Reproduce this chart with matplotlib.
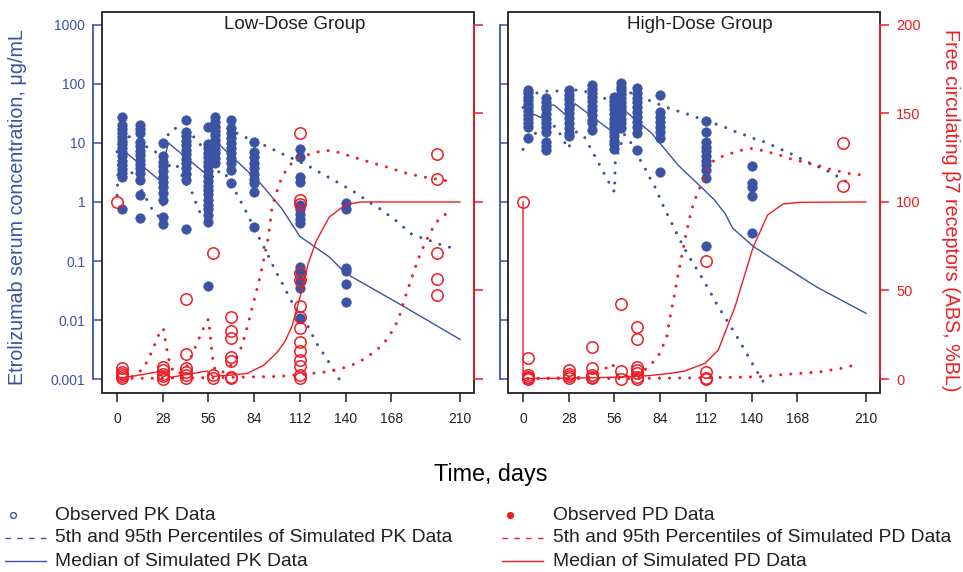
import matplotlib
matplotlib.use("Agg")
import matplotlib.pyplot as plt
from matplotlib.lines import Line2D
from matplotlib.patches import Rectangle
from matplotlib.ticker import FixedLocator, FixedFormatter, NullLocator

plt.rcParams['font.family'] = ['Liberation Sans', 'DejaVu Sans']

BLUE = '#3a53a4'
RED = '#ee1c25'
DARK = '#231f20'

# ---------------- axis ticks ----------------
X_TICKS = [0, 28, 56, 84, 112, 140, 168, 210]
PK_TICKS = [0.001, 0.01, 0.1, 1, 10, 100, 1000]
PK_TICK_LABELS = ['0.001', '0.01', '0.1', '1', '10', '100', '1000']
PD_TICKS = [0, 50, 100, 150, 200]

# ---------------- Low-dose group ----------------
LOW_PK_OBS_DAYS = [3, 14, 28, 42, 56, 60, 70, 84, 112, 140]
LOW_PK_OBS = [
    [28, 20, 17, 14.5, 12.5, 11, 9.5, 8.2, 7, 6, 5, 4.3, 3.6, 3.1, 2.7, 0.75],
    [20, 17, 15, 10.5, 8.8, 7.4, 6.2, 5.2, 4.4, 3.7, 3.1, 2.4, 1.3, 0.53],
    [10, 6, 4.8, 4, 3.3, 2.7, 2.2, 1.8, 1.4, 1.1, 0.56, 0.42],
    [25, 15.6, 13, 11, 9.2, 7.7, 6.4, 5.4, 4.5, 3.7, 3, 2.4, 0.35],
    [19, 9.8, 8.2, 6.9, 5.8, 4.8, 4, 3.4, 2.8, 2.3, 1.9, 1.6, 1.35, 1.1, 0.9, 0.75, 0.6, 0.46, 0.037],
    [28, 23, 19, 16, 13.5, 11.3, 9.5, 8, 6.7, 5.6, 4.5],
    [24.5, 17.7, 14.5, 12, 10, 8.2, 6.7, 5.5, 4.5, 3.5, 2.1],
    [10.5, 7.1, 5.8, 4.6, 3.7, 3, 2.5, 2.1, 1.5, 0.38],
    [7.8, 5.8, 2.7, 2.2, 0.9, 0.75, 0.62, 0.52, 0.44, 0.08, 0.066, 0.045, 0.035, 0.011],
    [0.95, 0.77, 0.075, 0.068, 0.04, 0.02],
]
LOW_PK_MED_DAYS = [1, 25.5, 31.5, 55, 60, 87.6, 100.8, 112, 130, 140, 174, 210]
LOW_PK_MED = [8.7, 2.4, 10, 2.9, 11, 2.1, 0.78, 0.26, 0.117, 0.062, 0.018, 0.0047]
LOW_PK_P5_DAYS = [0, 1, 10, 19, 22, 27.5, 29, 32.5, 37, 42.7, 45.7, 48.4, 50.8, 56, 57,
                  59.4, 65.5, 72, 77.8, 80.6, 86, 91.6, 97.4, 100.4, 106, 109, 115.7,
                  122, 129.4, 136, 138.6]
LOW_PK_P5 = [1.3, 6.0, 2.9, 1.0, 0.71, 0.5, 2.5, 4.5, 4.0, 1.9, 1.5, 0.95, 0.66, 0.44, 2.0,
             3.2, 3.3, 1.6, 0.8, 0.56, 0.28, 0.14, 0.065, 0.046, 0.023, 0.0163, 0.0092,
             0.0041, 0.002, 0.001, 0.00073]
LOW_PK_P95_DAYS = [0, 7, 18, 28, 31.5, 35.5, 46.7, 53, 56, 60, 64, 77, 89, 100, 117, 123,
                   134.5, 145, 155, 160.6, 170.6, 180, 186, 192, 198, 204]
LOW_PK_P95 = [7.1, 13, 8.7, 6.0, 14.5, 17.8, 12.9, 8.1, 7.0, 18, 20, 13, 9.5, 6.8, 4.1, 3.3,
              2.2, 1.5, 0.97, 0.78, 0.49, 0.29, 0.25, 0.22, 0.19, 0.17]

LOW_PD_OBS_DAYS = [0, 3, 28, 42, 59, 70, 112, 196]
LOW_PD_OBS = [
    [100],
    [6, 4, 3, 1.5, 0.5],
    [7, 5, 3, 1.5, 0],
    [45, 14, 6, 4, 2, 0.5],
    [71, 2, 0.5],
    [35, 27, 23, 12.6, 10, 1.3, 0.5],
    [139, 101, 99, 60, 56, 41, 35, 29, 21, 16, 11, 7.5, 2.3, 0.4],
    [127, 113, 71, 56.5, 47.5],
]
LOW_PD_MED_DAYS = [3, 27.5, 33, 55, 59, 70, 80, 90, 98, 103, 107, 112, 117, 122, 130, 140, 149, 210]
LOW_PD_MED = [0.5, 4.5, 1.0, 4.5, 1.5, 2.2, 3.2, 7.9, 15, 21.5, 29.5, 46, 65, 78, 91.5, 98.5, 100, 100]
LOW_PD_P95_DAYS = [3, 9, 16, 21.6, 26.3, 28.4, 30.4, 32, 34.5, 38, 42.7, 47.8, 52.9, 56, 57.4,
                   58.5, 60, 65, 70, 73.3, 76.3, 78.4, 81.4, 84.5, 87.6, 90.2, 92.7, 95, 98.8,
                   101, 104.3, 108, 114, 120, 126, 132, 138, 144, 150.5, 156.6, 162, 168, 174,
                   180, 186.6, 205]
LOW_PD_P95 = [0.5, 1.3, 5.6, 16, 26.7, 28.6, 17.3, 10, 4.1, 3, 7, 17.7, 28.6, 33.9, 22,
              12, 5, 4, 8, 12.6, 18.3, 24.9, 35.2, 46.5, 57.8, 69, 80.4, 97.4, 108.6,
              114, 119, 123, 126, 127.5, 129, 129, 127.3, 125.6, 123.7, 122, 120.5, 119, 117,
              115.6, 114.3, 111.5]
LOW_PD_P5_DAYS = [3, 60, 100, 104, 116.7, 123, 129, 135.5, 141.3, 147.3, 152.5, 157.6, 162.5,
                  166.4, 169.5, 172.4, 176, 180, 184, 189, 194.7, 199, 204.5]
LOW_PD_P5 = [0.3, 0.8, 1.5, 1.9, 2.8, 3.6, 4.1, 5.5, 7, 9.2, 12, 15.4, 19.2, 23.9, 28.6, 33.9,
             45, 55.9, 66.8, 77.6, 87.6, 92, 94.5]

# ---------------- High-dose group ----------------
HIGH_PK_OBS_DAYS = [3, 14, 28, 42, 56, 60, 70, 84, 112, 140]
HIGH_PK_OBS = [
    [80, 70, 61, 53, 46, 40, 35, 30, 26, 22, 18.4, 12.2],
    [57, 50, 43, 37, 31, 26, 22, 18.5, 15.6, 10.5, 9, 7.6],
    [79, 66, 55, 46, 38, 32, 27, 22, 17.7, 14.6, 12.9],
    [96, 83, 71, 60, 51, 43, 36, 30, 25, 21.6, 16.7],
    [61, 52, 44, 37, 31, 26, 22, 18.5, 15.5, 13, 11, 9.5, 8],
    [105, 90, 78, 67, 58, 50, 43, 37, 31, 26, 22, 18],
    [85, 71, 59, 49, 41, 34, 28, 23, 18.5, 14.6, 7.6],
    [65, 34, 28, 23, 19, 15.6, 12.2, 3.2],
    [24, 15.6, 10.5, 8.7, 7.2, 6, 5, 4.2, 3.5, 2.6, 0.18],
    [4.0, 2.1, 1.8, 1.27, 0.30],
]
HIGH_PK_MED_DAYS = [3, 11, 15.5, 19, 28, 32, 54, 60, 78.8, 95, 112, 117, 123.7, 128.4, 141,
                    158.4, 180, 210]
HIGH_PK_MED = [34, 27, 44, 44, 27, 46, 16, 40, 14.6, 4.2, 1.5, 1.1, 0.64, 0.36, 0.177,
               0.086, 0.036, 0.013]
HIGH_PK_P5_DAYS = [0, 8, 19.6, 22.7, 25.3, 28, 30.8, 38, 41, 44, 47, 49.8, 52.8, 56, 56.5,
                   62, 67, 72.7, 76, 78.8, 81.9, 84, 89.6, 95, 101, 107.4, 114, 120, 126.8,
                   133, 139.6, 146, 149.6]
HIGH_PK_P5 = [7.8, 15, 19.4, 14.2, 10.4, 8, 16.7, 12.2, 8.5, 6, 4.2, 3.0, 2.1, 1.48, 5,
              14, 9.3, 4.6, 3.2, 2.2, 1.6, 1.1, 0.53, 0.26, 0.126, 0.066, 0.032, 0.016,
              0.0081, 0.0042, 0.002, 0.001, 0.00072]
HIGH_PK_P95_DAYS = [0, 8, 15, 21, 27, 33, 44.7, 50, 56, 60, 63.5, 75, 81, 87, 93, 99, 105,
                    116.6, 122.7, 128.4, 134.3, 140, 146, 152, 158, 163.5, 169, 174.7, 180.5,
                    186, 191.7, 197, 202]
HIGH_PK_P95 = [40, 70, 76, 76, 68, 80, 68, 57, 52, 70, 75, 56, 48, 41, 36, 32, 28, 21.6, 19,
               16.2, 14.2, 12.2, 10.9, 9.3, 7.8, 6.7, 5.6, 4.7, 4.0, 3.4, 2.8, 2.3, 1.9]

HIGH_PD_OBS_DAYS = [0, 3, 28, 42, 60, 70, 112, 196]
HIGH_PD_OBS = [
    [100],
    [12, 2.3, 1, 0, 0.5],
    [5.1, 2.8, 0.4, 1.5],
    [18.3, 6.4, 2.3, 1, 0.3],
    [42.4, 4.7, 0],
    [29.6, 22.4, 6.8, 5, 3.2, 1, 0],
    [66.7, 3.8, 0.4, 0],
    [133.5, 109],
]
HIGH_PD_MED_DAYS = [0, 0, 30, 56, 77, 90, 99, 111.5, 119.6, 129.8, 141, 149.8, 159.4, 169.6, 210]
HIGH_PD_MED = [100, 0.3, 0.5, 1.0, 1.9, 3.2, 4.5, 8.9, 16.4, 40.8, 74.7, 92.7, 98.9, 99.8, 100]
HIGH_PD_P95_DAYS = [3, 42, 46, 49, 54.3, 56.3, 58, 62, 70, 74, 79, 83, 85.5, 88, 90, 92.5,
                    94.7, 97.2, 99.6, 102.3, 104, 106, 108.4, 111, 113.5, 117, 122.7, 128.8,
                    134.5, 140.6, 146.8, 153, 159, 165, 171, 177, 183, 189.4, 195.5, 201.7,
                    207.8]
HIGH_PD_P95 = [0.3, 1.0, 3, 4.7, 8.9, 6, 2, 1.5, 2.5, 4.7, 8.9, 13.2, 18.3, 23.9, 34.9, 46.5,
               57.8, 69.5, 80.8, 92, 97.7, 103, 108.3, 114, 119, 123.7, 126, 127.9, 129.4,
               130.3, 129, 127.5, 126, 124, 122.8, 121.3, 120, 118, 117, 115.6, 115.3]
HIGH_PD_P5_DAYS = [3, 60, 100, 130, 145, 157, 170, 182.5, 188.6, 194.7, 201.3]
HIGH_PD_P5 = [0.2, 0.3, 0.6, 1.0, 1.3, 2.3, 3.2, 4.1, 5.1, 6.0, 7.5]

# ---------------- layout ----------------
W, H = 963, 572
fig = plt.figure(figsize=(W / 100, H / 100), dpi=100)

XLIM = (-9.2, 218.6)
PK_YLIM = (10 ** -3.237, 10 ** 3.22)
PD_YLIM = (-7.9, 207.3)
DOT = (0, (0.01, 3.3))


def flatten(days, groups):
    xs, ys = [], []
    for d, g in zip(days, groups):
        for v in g:
            xs.append(d)
            ys.append(v)
    return xs, ys


def panel(x0, x1, title, title_x, pk, pd, left_labels, right_labels, blue_off):
    ytop, ybot = 12, 393
    ax = fig.add_axes([x0 / W, 1 - ybot / H, (x1 - x0) / W, (ybot - ytop) / H])
    ax.set_yscale('log')
    ax.set_xlim(XLIM)
    ax.set_ylim(PK_YLIM)
    ax.patch.set_alpha(0)
    ax2 = ax.twinx()
    ax2.set_ylim(PD_YLIM)

    obs_d, obs_v, med_d, med_v, p5_d, p5_v, p95_d, p95_v = pk
    xs, ys = flatten(obs_d, obs_v)
    ax.plot(xs, ys, 'o', color=BLUE, ms=6.8, mec=BLUE, mew=0.5, ls='none', zorder=3)
    ax.plot(med_d, med_v, '-', color=BLUE, lw=1.0, zorder=4)
    for d, v in ((p5_d, p5_v), (p95_d, p95_v)):
        ax.plot(d, v, color=BLUE, lw=2.2, ls=DOT, dash_capstyle='round', zorder=4)

    obs_d, obs_v, med_d, med_v, p5_d, p5_v, p95_d, p95_v = pd
    xs, ys = flatten(obs_d, obs_v)
    ax2.plot(xs, ys, 'o', mfc='none', mec=RED, ms=8.2, mew=1.1, ls='none', zorder=3)
    ax2.plot(med_d, med_v, '-', color=RED, lw=1.0, zorder=4)
    for d, v in ((p5_d, p5_v), (p95_d, p95_v)):
        ax2.plot(d, v, color=RED, lw=2.2, ls=DOT, dash_capstyle='round', zorder=4)

    # box
    ax.add_patch(Rectangle((0, 0), 1, 1, transform=ax.transAxes, fill=False,
                           ec=DARK, lw=1.3, clip_on=False, zorder=10))
    for s in ('top', 'right', 'bottom'):
        ax.spines[s].set_visible(False)
    ax.spines['left'].set_position(('outward', blue_off))
    ax.spines['left'].set_color(BLUE)
    ax.spines['left'].set_linewidth(1.3)
    ax.spines['left'].set_bounds(1e-3, 1e3)
    for s in ('top', 'left', 'bottom'):
        ax2.spines[s].set_visible(False)
    ax2.spines['right'].set_color(RED)
    ax2.spines['right'].set_linewidth(1.3)
    ax2.spines['right'].set_bounds(0, 200)

    ax.xaxis.set_major_locator(FixedLocator(X_TICKS))
    ax.xaxis.set_minor_locator(NullLocator())
    ax.tick_params(axis='x', direction='out', length=6.5, width=1.1, color=DARK,
                   labelsize=10, pad=7.5, labelcolor=DARK)
    ax.yaxis.set_major_locator(FixedLocator(PK_TICKS))
    ax.yaxis.set_major_formatter(FixedFormatter(PK_TICK_LABELS))
    ax.yaxis.set_minor_locator(NullLocator())
    ax.tick_params(axis='y', which='major', direction='in', length=6.5, width=1.1,
                   color=BLUE, labelcolor=BLUE, labelsize=10, pad=5.5, labelleft=left_labels)
    ax2.yaxis.set_major_locator(FixedLocator(PD_TICKS))
    ax2.yaxis.set_minor_locator(NullLocator())
    ax2.tick_params(axis='y', direction='out', length=6.5, width=1.1, color=RED,
                    labelcolor=RED, labelsize=10.5, pad=5, labelright=right_labels)

    ax.text(title_x, 0.9685, title, transform=ax.transAxes, ha='center', va='center',
            fontsize=13.5, color=DARK, zorder=11)
    return ax, ax2


panel(102, 474, 'Low-Dose Group', 0.5175,
      (LOW_PK_OBS_DAYS, LOW_PK_OBS, LOW_PK_MED_DAYS, LOW_PK_MED,
       LOW_PK_P5_DAYS, LOW_PK_P5, LOW_PK_P95_DAYS, LOW_PK_P95),
      (LOW_PD_OBS_DAYS, LOW_PD_OBS, LOW_PD_MED_DAYS, LOW_PD_MED,
       LOW_PD_P5_DAYS, LOW_PD_P5, LOW_PD_P95_DAYS, LOW_PD_P95),
      True, False, 6.5)
panel(508, 880, 'High-Dose Group', 0.516,
      (HIGH_PK_OBS_DAYS, HIGH_PK_OBS, HIGH_PK_MED_DAYS, HIGH_PK_MED,
       HIGH_PK_P5_DAYS, HIGH_PK_P5, HIGH_PK_P95_DAYS, HIGH_PK_P95),
      (HIGH_PD_OBS_DAYS, HIGH_PD_OBS, HIGH_PD_MED_DAYS, HIGH_PD_MED,
       HIGH_PD_P5_DAYS, HIGH_PD_P5, HIGH_PD_P95_DAYS, HIGH_PD_P95),
      False, True, 6.0)

# axis titles
fig.text(18 / W, 1 - 207 / H, 'Etrolizumab serum concentration, μg/mL', rotation=90,
         ha='center', va='center', color=BLUE, fontsize=14.2)
fig.text(950 / W, 1 - 210 / H, 'Free circulating β7 receptors (ABS, %BL)', rotation=270,
         ha='center', va='center', color=RED, fontsize=14.2)
fig.text(491 / W, 1 - 474 / H, 'Time, days', ha='center', va='center', color='black',
         fontsize=16.8)

# legend
LEG_ROWS = [515, 538, 561]
LEG_PK = ['Observed PK Data', '5th and 95th Percentiles of Simulated PK Data',
          'Median of Simulated PK Data']
LEG_PD = ['Observed PD Data', '5th and 95th Percentiles of Simulated PD Data',
          'Median of Simulated PD Data']


def fy(y):
    return 1 - y / H


for (xm, x0, x1, xt, col, labels, filled) in ((13, 5, 46, 55, BLUE, LEG_PK, False),
                                               (510, 502, 543, 553, RED, LEG_PD, True)):
    y0, y1, y2 = LEG_ROWS
    fig.add_artist(Line2D([xm / W], [fy(y0)], marker='o', ls='none',
                          mfc=col if filled else 'none', mec=col, ms=4.2, mew=1.0,
                          transform=fig.transFigure))
    fig.add_artist(Line2D([x0 / W, x1 / W], [fy(y1), fy(y1)], color=col, lw=1.0,
                          ls=(0, (4, 4.5)), transform=fig.transFigure))
    fig.add_artist(Line2D([x0 / W, x1 / W], [fy(y2), fy(y2)], color=col, lw=1.0,
                          transform=fig.transFigure))
    for y, t in zip(LEG_ROWS, labels):
        fig.text(xt / W, fy(y), t, ha='left', va='center', fontsize=13.9, color=DARK)

fig.savefig('out.png', dpi=100)
